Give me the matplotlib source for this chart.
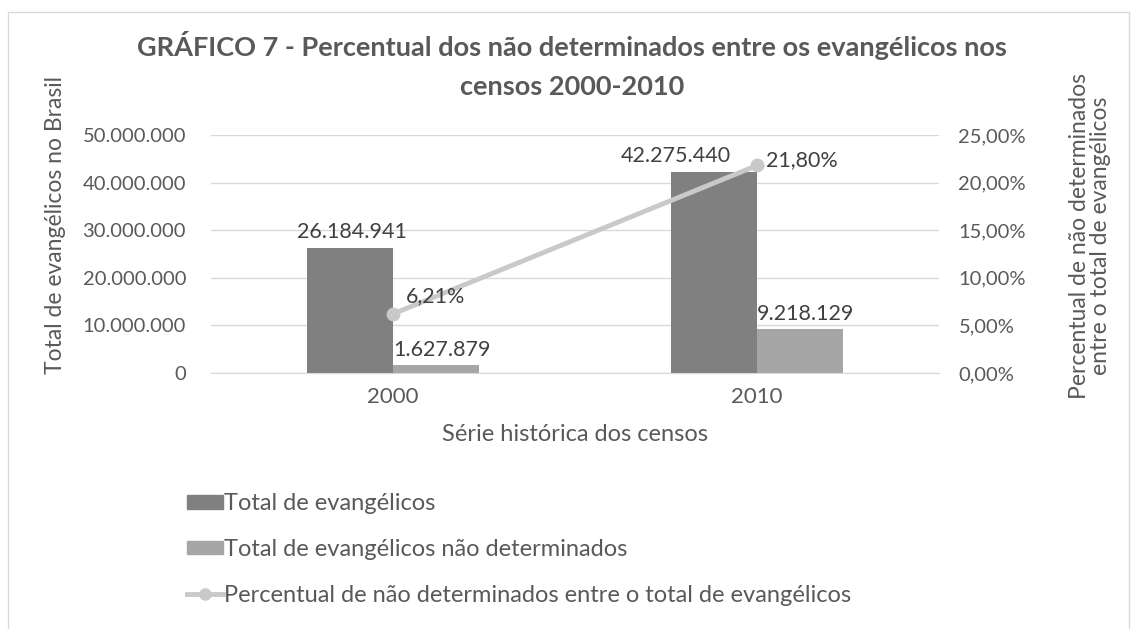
import matplotlib
matplotlib.use('Agg')
import matplotlib.pyplot as plt
from matplotlib.patches import Patch, Rectangle
from matplotlib.lines import Line2D

plt.rcParams['font.family'] = ['Lato', 'DejaVu Sans']

# dados dos censos
anos = ['2000', '2010']
total_evangelicos = [26184941, 42275440]
nao_determinados = [1627879, 9218129]
percentual = [6.21, 21.80]

cor_texto = '#595959'
cor_escura = '#808080'
cor_clara = '#a6a6a6'
cor_linha = '#c9c9c9'
cor_grade = '#d9d9d9'


def fmt_num(v):
    return f"{v:,}".replace(',', '.')


def fmt_pct(v):
    return f"{v:.2f}".replace('.', ',') + '%'


W, H = 1131, 629
fig = plt.figure(figsize=(W / 100, H / 100), dpi=100)
ax = fig.add_axes([211 / W, 1 - 373 / H, 728 / W, 238 / H])
ax2 = ax.twinx()

x = list(range(len(anos)))
w = 0.236
b1 = ax.bar([i - w / 2 for i in x], total_evangelicos, w, color=cor_escura, zorder=2)
b2 = ax.bar([i + w / 2 for i in x], nao_determinados, w, color=cor_clara, zorder=2)
ax2.plot(x, percentual, color=cor_linha, lw=3.5, marker='o', markersize=9, zorder=3)

ax.set_xlim(-0.5, 1.5)
ax.set_ylim(0, 50000000)
ax2.set_ylim(0, 25)
ax.set_yticks(range(0, 50000001, 10000000))
ax.set_yticklabels([fmt_num(v) for v in range(0, 50000001, 10000000)])
ax2.set_yticks(range(0, 26, 5))
ax2.set_yticklabels([fmt_pct(v) for v in range(0, 26, 5)])
ax.set_xticks(x)
ax.set_xticklabels(anos)
ax.grid(axis='y', color=cor_grade, lw=1, zorder=0)
for a in (ax, ax2):
    for s in a.spines.values():
        s.set_visible(False)
    a.tick_params(length=0, labelsize=14.5, labelcolor=cor_texto)
ax.spines['bottom'].set_visible(True)
ax.spines['bottom'].set_color(cor_grade)
ax.tick_params(axis='x', labelsize=16, pad=10)
ax.tick_params(axis='y', pad=18)
ax2.tick_params(axis='y', pad=14)

ax.set_xlabel('Série histórica dos censos', fontsize=17, color=cor_texto, labelpad=12.5)
fig.text(55 / W, 1 - 225 / H, 'Total de evangélicos no Brasil', rotation=90,
         ha='center', va='center', fontsize=16.5, color=cor_texto)
fig.text(1090 / W, 1 - 236 / H, 'Percentual de não determinados\nentre o total de evangélicos',
         rotation=90, ha='center', va='center', multialignment='center',
         fontsize=16.5, color=cor_texto, linespacing=1.05)

# rótulos de dados
desloc_escura = [2, -38]
for i, r in enumerate(b1):
    ax.annotate(fmt_num(total_evangelicos[i]), (r.get_x() + r.get_width() / 2, r.get_height()),
                xytext=(desloc_escura[i], 6), textcoords='offset pixels',
                ha='center', va='bottom', fontsize=15.5, color='#404040')
for i, r in enumerate(b2):
    ax.annotate(fmt_num(nao_determinados[i]), (r.get_x() + r.get_width() / 2, r.get_height()),
                xytext=(6, 5), textcoords='offset pixels',
                ha='center', va='bottom', fontsize=15.5, color='#404040')
desloc_pct = [(13, 18), (9, 5)]
for i, p in enumerate(percentual):
    ax2.annotate(fmt_pct(p), (x[i], p), xytext=desloc_pct[i], textcoords='offset pixels',
                 ha='left', va='center', fontsize=15.5, color='#404040')

fig.text(572 / W, 1 - 65 / H,
         'GRÁFICO 7 - Percentual dos não determinados entre os evangélicos nos\ncensos 2000-2010',
         ha='center', va='center', fontsize=19.5, fontweight='bold', color=cor_texto, linespacing=1.72)

# legenda
handles = [Patch(color=cor_escura), Patch(color=cor_clara),
           Line2D([], [], color=cor_linha, lw=3.5, marker='o', markersize=8)]
labels = ['Total de evangélicos', 'Total de evangélicos não determinados',
          'Percentual de não determinados entre o total de evangélicos']
leg = fig.legend(handles, labels, loc='upper left', bbox_to_anchor=(166 / W, 1 - 472 / H),
                 frameon=False, fontsize=17, labelcolor=cor_texto, handlelength=1.5,
                 handleheight=0.5, handletextpad=0.05, labelspacing=1.05)

fig.patches.append(Rectangle((8 / W, -0.01), 1121 / W, 1 - 12 / H + 0.01, transform=fig.transFigure,
                             fill=False, edgecolor=cor_grade, lw=1))

fig.savefig('out.png', dpi=100)
